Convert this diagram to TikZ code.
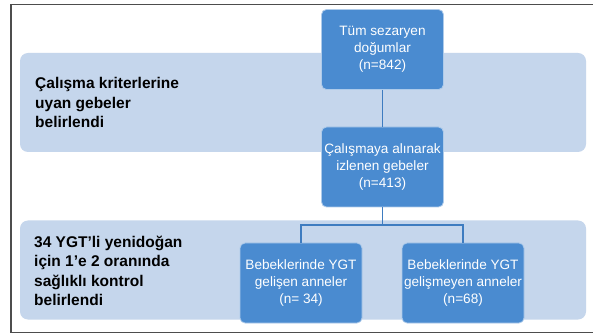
\documentclass[tikz,border=0pt]{standalone}
\usepackage{fontspec}
\setmainfont{Liberation Sans}
\definecolor{boxblue}{HTML}{4A8BD0}
\definecolor{bandblue}{HTML}{C5D6EC}
\definecolor{linkblue}{HTML}{3E7CC0}
\definecolor{framegray}{HTML}{4D4D4D}
\begin{document}
\begin{tikzpicture}[x=1pt,y=-1pt,
  flowbox/.style={rectangle, rounded corners=5pt, fill=boxblue, draw=white!55!boxblue, line width=0.8pt,
    minimum width=122pt, minimum height=80pt, inner sep=0pt, align=center, text=white,
    font=\fontsize{13.6}{17}\selectfont},
  bandbox/.style={rectangle, rounded corners=8pt, fill=bandblue, draw=none,
    minimum width=566pt, minimum height=99pt, inner sep=0pt},
  bandlabel/.style={anchor=west, align=left, inner sep=0pt, text=black,
    font=\fontsize{15.5}{19.3}\selectfont\bfseries},
  link/.style={draw=linkblue, line width=1.4pt}]
\useasboundingbox (0,0) rectangle (593,336);
\fill[white] (0,0) rectangle (593,336);
% frame
\draw[framegray, line width=1.5pt] (600,4.5) -- (11,4.5) -- (11,332.5) -- (600,332.5);
% bands
\node[bandbox] (band1) at (303,102.5) {};
\node[bandbox] (band2) at (303,270) {};
\node[bandlabel] (lab1) at (35,102.5) {Çalışma kriterlerine\\uyan gebeler\\belirlendi};
\node[bandlabel] (lab2) at (34,271) {34 YGT'li yenidoğan\\için 1'e 2 oranında\\sağlıklı kontrol\\belirlendi};
% boxes
\node[flowbox] (box1) at (382.5,49.5) {Tüm sezaryen\\doğumlar\\(n=842)};
\node[flowbox] (box2) at (382.5,167) {Çalışmaya alınarak\\izlenen gebeler\\(n=413)};
\node[flowbox] (box3) at (301,283) {Bebeklerinde YGT\\gelişen anneler\\(n= 34)};
\node[flowbox] (box4) at (463,283) {Bebeklerinde YGT\\gelişmeyen anneler\\(n=68)};
\coordinate (j) at (382.5,225);
% connectors
\draw[link] (box1.south) -- (box2.north);
\draw[link] (box2.south) -- (j);
\draw[link] (box3.north) |- (j) -| (box4.north);
\end{tikzpicture}
\end{document}
